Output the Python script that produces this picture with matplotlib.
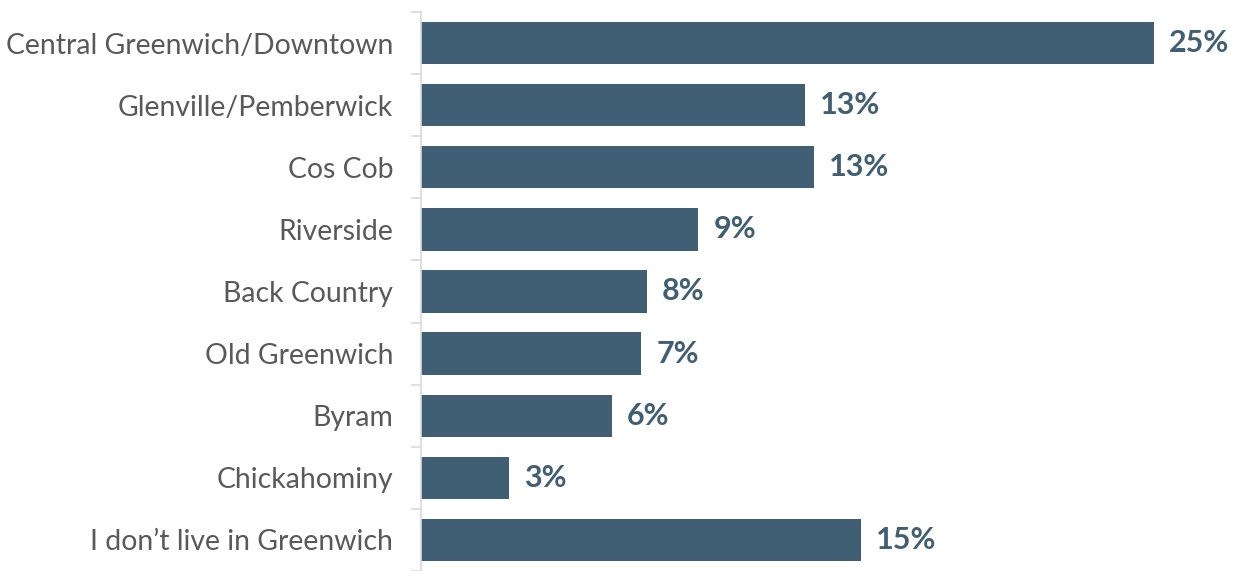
import matplotlib.pyplot as plt
from matplotlib.ticker import FixedLocator

# survey shares (%)
areas = ["Central Greenwich/Downtown", "Glenville/Pemberwick", "Cos Cob",
         "Riverside", "Back Country", "Old Greenwich", "Byram",
         "Chickahominy", "I don\u2019t live in Greenwich"]
shares = [25.0, 13.1, 13.4, 9.45, 7.7, 7.5, 6.5, 3.0, 15.0]
labels = ["25%", "13%", "13%", "9%", "8%", "7%", "6%", "3%", "15%"]

bar_col = "#405F74"
plt.rcParams['font.family'] = ['Lato', 'DejaVu Sans']

fig = plt.figure(figsize=(12.4, 5.71), dpi=100)
ax = fig.add_axes([421 / 1240, 0.0, 1 - 421 / 1240, 1 - 12 / 571])

ypos = list(range(len(areas)))
ax.barh(ypos, shares, height=0.68, color=bar_col)
ax.set_ylim(len(areas) - 0.5, -0.5)
ax.set_xlim(0, 819 / 29.32)

for y, v, lab in zip(ypos, shares, labels):
    ax.annotate(lab, (v, y), xytext=(11, 0), textcoords="offset points",
                va="center", ha="left", fontsize=22, fontweight="bold",
                color=bar_col)

ax.set_yticks(ypos)
ax.set_yticklabels(areas, fontsize=20.4, color="#595959")
ax.yaxis.set_minor_locator(FixedLocator([i - 0.5 for i in range(len(areas) + 1)]))
ax.tick_params(axis="y", which="major", length=0, pad=20)
ax.tick_params(axis="y", which="minor", length=7, width=1.2, color="#D9D9D9")
ax.set_xticks([])

for s in ["top", "right", "bottom"]:
    ax.spines[s].set_visible(False)
ax.spines["left"].set_color("#D9D9D9")
ax.spines["left"].set_linewidth(1.2)

fig.savefig("out.png", dpi=100)
